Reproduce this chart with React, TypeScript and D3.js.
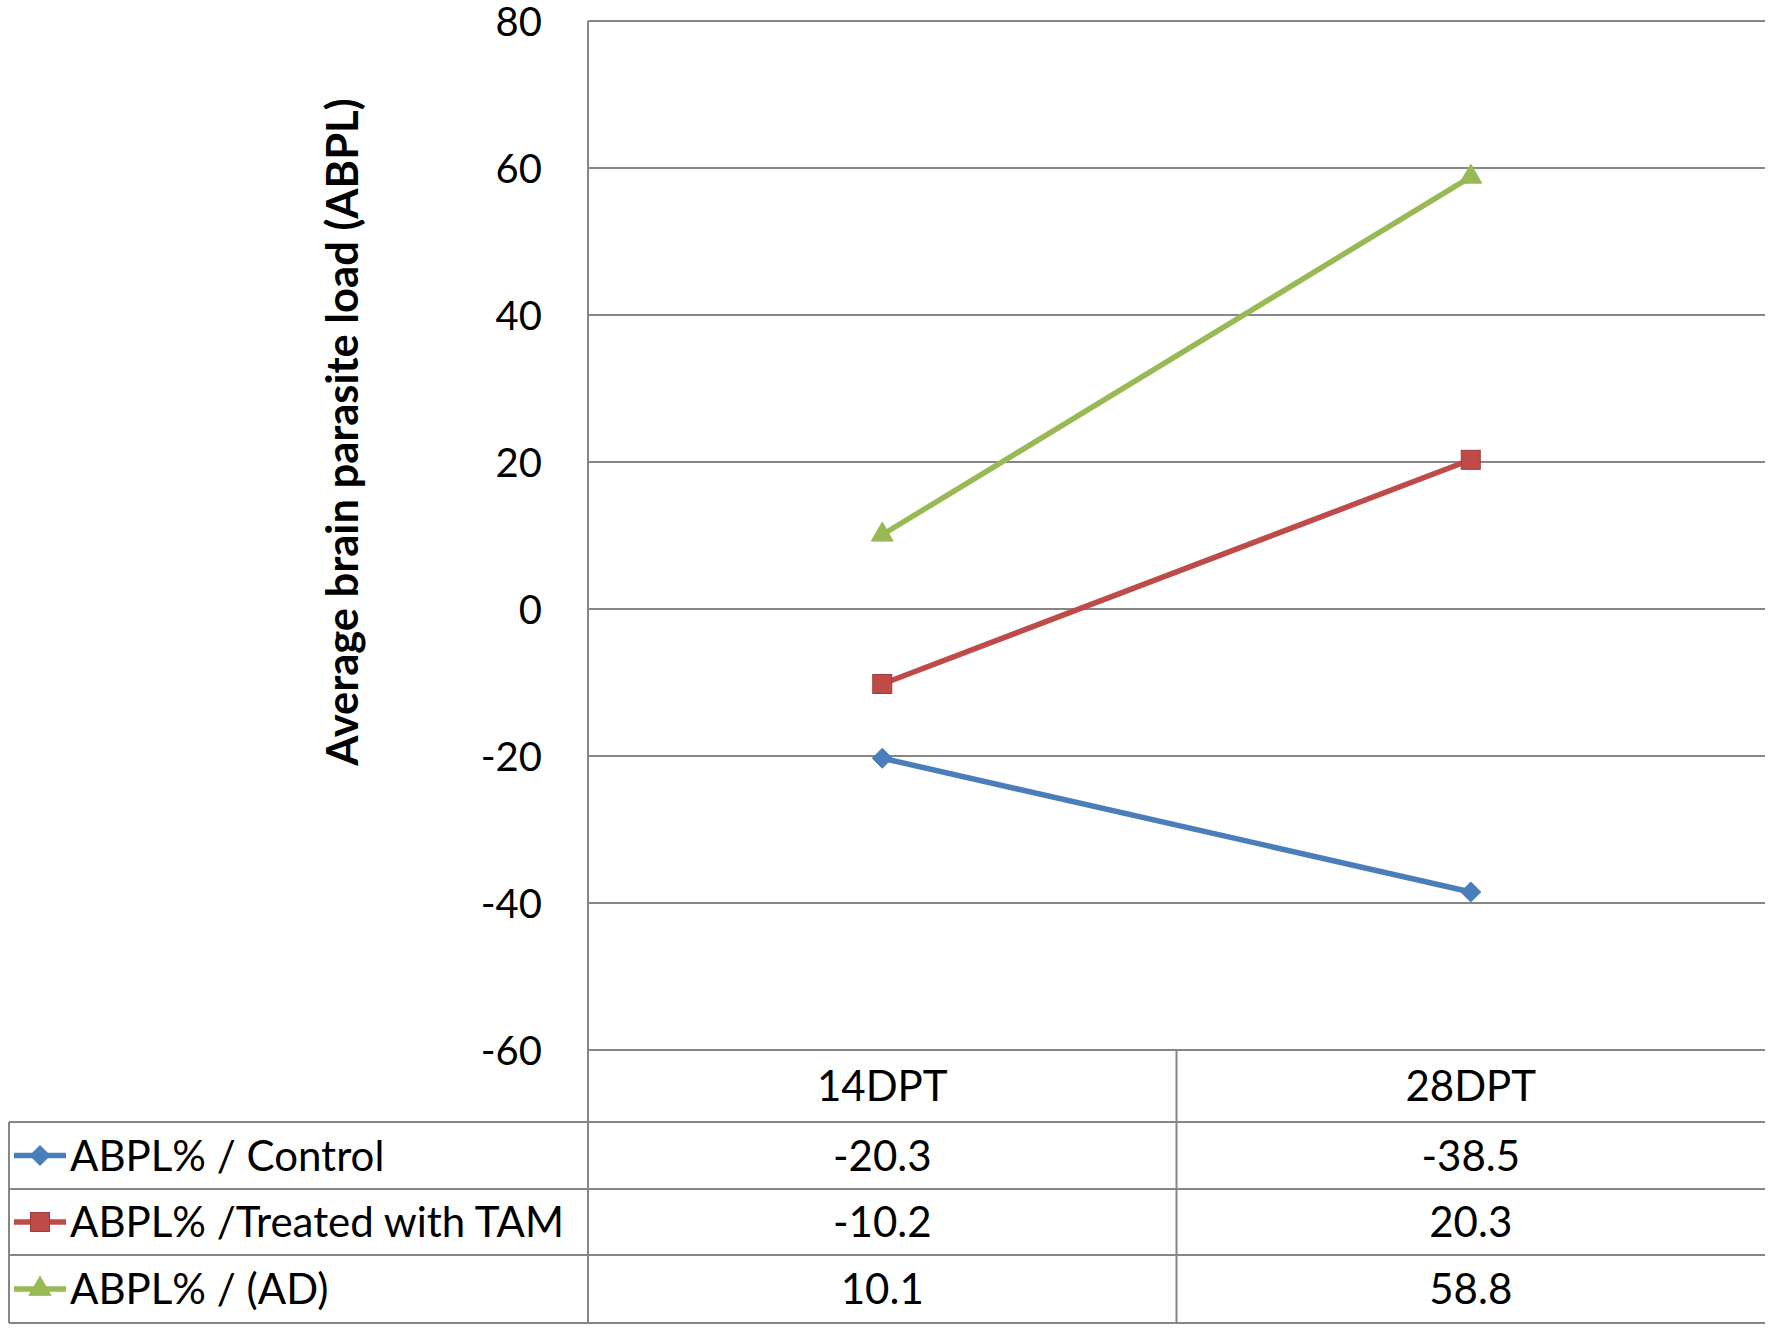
import * as d3 from "d3";

const categories = ["14DPT", "28DPT"];
const seriesNames = ["ABPL% / Control", "ABPL% /Treated with TAM", "ABPL% / (AD)"];
const controlValues = [-20.3, -38.5];
const tamValues = [-10.2, 20.3];
const adValues = [10.1, 58.8];
const yTicks = [80, 60, 40, 20, 0, -20, -40, -60];

const colors = ["#4A7EBB", "#BE4B48", "#98B954"];
const allSeries = [controlValues, tamValues, adValues];

const W = 1772;
const H = 1329;
const font = "Lato, 'Open Sans', sans-serif";
const gridColor = "#868686";

const marker = (i: number, color: string) => {
  if (i === 0) return <path d="M0,-10L10,0L0,10L-10,0Z" fill={color} stroke={color} />;
  if (i === 1) return <rect x={-9.5} y={-9.5} width={19} height={19} fill={color} stroke="#A03C3A" />;
  return <path d={d3.symbol(d3.symbolTriangle, 210)() ?? ""} fill={color} stroke={color} />;
};

export default function App() {
  const left = 588;
  const right = 1765;
  const x = d3.scaleBand().domain(categories).range([left, right]);
  const y = d3.scaleLinear().domain([-60, 80]).range([1050, 21]);
  const rowLines = [1050, 1122, 1189, 1255, 1323];
  const tableLeft = 9;

  const line = d3
    .line<number>()
    .x((_, i) => x(categories[i])! + x.bandwidth() / 2)
    .y((d) => y(d));

  return (
    <svg width={W} height={H} style={{ position: "absolute", left: 0, top: 0, background: "#fff" }} fontFamily={font}>
      {/* gridlines + y ticks */}
      {yTicks.map((t) => (
        <g key={t}>
          <line x1={left} x2={right} y1={y(t)} y2={y(t)} stroke={gridColor} strokeWidth={2} />
          <text x={542} y={y(t) + 15} textAnchor="end" fontSize={40}>
            {t}
          </text>
        </g>
      ))}
      <text
        transform={`translate(358,${(96 + 768) / 2}) rotate(-90)`}
        textAnchor="middle"
        fontSize={43.5}
        fontWeight="bold"
      >
        Average brain parasite load (ABPL)
      </text>

      {/* data table */}
      <line x1={left} x2={left} y1={y(80)} y2={rowLines[4]} stroke={gridColor} strokeWidth={2} />
      <line x1={left + x.bandwidth()} x2={left + x.bandwidth()} y1={rowLines[0]} y2={rowLines[4]} stroke={gridColor} strokeWidth={2} />
      <line x1={tableLeft} x2={tableLeft} y1={rowLines[1]} y2={rowLines[4]} stroke={gridColor} strokeWidth={2} />
      {rowLines.slice(1).map((r) => (
        <line key={r} x1={tableLeft} x2={right} y1={r} y2={r} stroke={gridColor} strokeWidth={2} />
      ))}
      {categories.map((c) => (
        <text key={c} x={x(c)! + x.bandwidth() / 2} y={(rowLines[0] + rowLines[1]) / 2 + 15} textAnchor="middle" fontSize={42}>
          {c}
        </text>
      ))}
      {allSeries.map((vals, i) => {
        const cy = (rowLines[i + 1] + rowLines[i + 2]) / 2;
        return (
          <g key={i}>
            <line x1={14} x2={66} y1={cy} y2={cy} stroke={colors[i]} strokeWidth={5.5} />
            <g transform={`translate(40,${cy})`}>{marker(i, colors[i])}</g>
            <text x={70} y={cy + 15} fontSize={42}>
              {seriesNames[i]}
            </text>
            {vals.map((v, j) => (
              <text key={j} x={x(categories[j])! + x.bandwidth() / 2} y={cy + 15} textAnchor="middle" fontSize={42}>
                {v}
              </text>
            ))}
          </g>
        );
      })}

      {/* series */}
      {allSeries.map((vals, i) => (
        <g key={i}>
          <path d={line(vals) ?? ""} fill="none" stroke={colors[i]} strokeWidth={5.5} />
          {vals.map((v, j) => (
            <g key={j} transform={`translate(${x(categories[j])! + x.bandwidth() / 2},${y(v)})`}>
              {marker(i, colors[i])}
            </g>
          ))}
        </g>
      ))}
    </svg>
  );
}
